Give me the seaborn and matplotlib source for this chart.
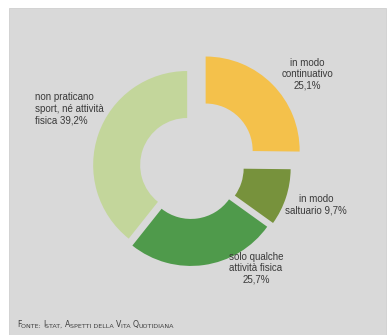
import matplotlib
matplotlib.use("Agg")
import matplotlib.pyplot as plt
from matplotlib.patches import Rectangle
import seaborn as sns

sns.set_style("white")
plt.rcParams['font.family'] = ['Liberation Sans', 'DejaVu Sans']

# data
categories = ["in modo continuativo", "in modo saltuario", "solo qualche attività fisica",
              "non praticano sport, né attività fisica"]
values = [25.1, 9.7, 25.7, 39.2]
labels = ["in modo\ncontinuativo\n25,1%", "in modo\nsaltuario 9,7%",
          "solo qualche\nattività fisica\n25,7%", "non praticano\nsport, né attività\nfisica 39,2%"]
colors = ["#F4C14B", "#77923C", "#4F9A4B", "#C3D69B"]
explode = [22, 7, 6, 3]
source = [("F", True), ("ONTE: ", False), ("I", True), ("STAT, ", False), ("A", True),
          ("SPETTI DELLA ", False), ("V", True), ("ITA ", False), ("Q", True), ("UOTIDIANA", False)]

W, H = 387, 335
fig = plt.figure(figsize=(W / 100, H / 100), dpi=100)
fig.patch.set_facecolor("white")
ax = fig.add_axes([0, 0, 1, 1])

# panel background
ax.add_patch(Rectangle((9, 0), 377, H - 8, facecolor="#D9D9D9", edgecolor="#CFCFCF", lw=0.6, zorder=0))

ax.pie(values, colors=colors, startangle=90, counterclock=False, explode=explode,
       center=(190, 169), radius=94, wedgeprops=dict(width=47, linewidth=0),
       frame=True)
ax.set_xlim(0, W)
ax.set_ylim(0, H)
ax.set_aspect("equal")
ax.axis("off")

tc = "#3A3A3A"
fs = 7
ax.text(307, 261, labels[0], ha="center", va="center", fontsize=fs, color=tc, linespacing=1.15)
ax.text(316, 130.5, labels[1], ha="center", va="center", fontsize=fs, color=tc, linespacing=1.15)
ax.text(256, 67, labels[2], ha="center", va="center", fontsize=fs, color=tc, linespacing=1.15)
ax.text(35, 226, labels[3], ha="left", va="center", fontsize=fs, color=tc, linespacing=1.2)

# small-caps source line
prev = None
for txt, big in source:
    size = 5.6 if big else 4.6
    if prev is None:
        prev = ax.text(17, 8, txt, fontsize=size, color="#404040", ha="left", va="baseline",
                       family=["DejaVu Sans"])
    else:
        prev = ax.annotate(txt, xy=(1, 0), xycoords=prev, xytext=(0, 0), textcoords="offset points",
                           fontsize=size, color="#404040", ha="left", va="bottom",
                           family=["DejaVu Sans"])

fig.savefig("out.png", dpi=100)
